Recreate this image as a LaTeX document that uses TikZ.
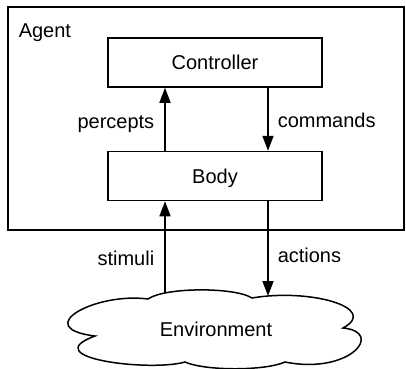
\documentclass[tikz,border=0pt]{standalone}
\usepackage{fontspec}
\setmainfont{Liberation Sans}
\usetikzlibrary{arrows.meta}

\begin{document}
\begin{tikzpicture}[x=1pt,y=1pt,line width=1.5pt,
  box/.style={draw,minimum width=214pt,minimum height=49pt,text depth=0pt},
  arr/.style={-{Triangle[length=15pt,width=11pt]}}]
\tikzstyle{every node}+=[inner sep=0pt,font=\fontsize{20}{24}\selectfont]
\useasboundingbox (0,0) rectangle (406,-368);
\node [draw,minimum width=396pt,minimum height=223pt] (agent) at (206,-118.5) {};
\node [anchor=base west] (agentlbl) at (18,-37) {Agent};
\node [box] (ctrl) at (215,-62.5) {Controller};
\node [box] (body) at (215,-176) {Body};
% environment cloud
\draw (148,-299) .. controls (165,-287) and (235,-287) .. (252,-298)
  .. controls (310,-288) and (380,-308) .. (343,-328)
  .. controls (385,-332) and (350,-375) .. (285,-362)
  .. controls (265,-371) and (205,-371) .. (185,-362)
  .. controls (150,-372) and (35,-358) .. (95,-336)
  .. controls (30,-328) and (95,-292) .. cycle;
\node (env) at (216,-329) {Environment};
\coordinate (stimtop) at (165,-293);
\coordinate (acttop) at (268,-296);
\draw [arr] ([xshift=-50pt]body.north) -- ([xshift=-50pt]ctrl.south);
\node [anchor=base east] (perc) at (155,-128) {percepts};
\draw [arr] ([xshift=53pt]ctrl.south) -- ([xshift=53pt]body.north);
\node [anchor=base west] (cmd) at (277,-127) {commands};
\draw [arr] (stimtop) -- (stimtop |- body.south);
\node [anchor=base east] (stimlbl) at (155,-265) {stimuli};
\draw [arr] (acttop |- body.south) -- (acttop);
\node [anchor=base west] (actlbl) at (277,-262) {actions};
\end{tikzpicture}
\end{document}
